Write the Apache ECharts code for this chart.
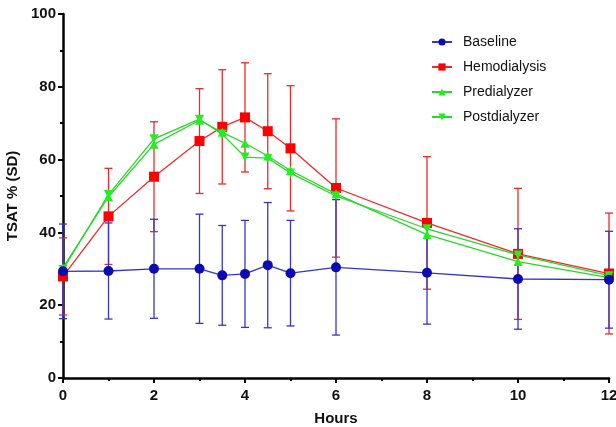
<!DOCTYPE html>
<html><head><meta charset="utf-8">
<script src="https://cdn.jsdelivr.net/npm/echarts@6/dist/echarts.min.js"></script>
<style>html,body{margin:0;padding:0;background:#fff}#c{width:616px;height:427px}</style>
</head><body><div id="c"></div>
<script>
var hours = [0, 1, 2, 3, 3.5, 4, 4.5, 5, 6, 8, 10, 12];
var baseline = [29.3, 29.4, 30.0, 30.0, 28.2, 28.6, 31.0, 28.8, 30.4, 28.9, 27.2, 27.0];
var baselineSD = [13.0, 13.2, 13.6, 15.0, 13.7, 14.7, 17.2, 14.5, 18.6, 14.1, 13.8, 13.3];
var hemodialysis = [27.9, 44.4, 55.3, 65.1, 69.0, 71.6, 67.8, 63.1, 52.2, 42.6, 34.1, 28.7];
var hemodialysisSD = [10.6, 13.2, 15.1, 14.4, 15.7, 15.0, 15.8, 17.2, 19.0, 18.2, 18.0, 16.6];
var predialyzer = [30.3, 49.8, 64.2, 70.8, 67.5, 64.5, 61.0, 57.0, 50.6, 39.4, 32.0, 27.6];
var postdialyzer = [29.8, 50.4, 65.7, 71.1, 67.0, 60.7, 60.4, 56.3, 50.0, 41.0, 33.8, 28.1];
var xTicks = [0, 2, 4, 6, 8, 10, 12];
var yTicks = [0, 20, 40, 60, 80, 100];

function pairs(ys){ return hours.map(function(h,i){ return [h, ys[i]]; }); }
function bars(ys, sd){ return hours.map(function(h,i){ return [h, ys[i]-sd[i], ys[i]+sd[i]]; }); }

function errRender(color){
  return function(params, api){
    var x = api.value(0);
    var lo = api.coord([x, api.value(1)]);
    var hi = api.coord([x, api.value(2)]);
    var w = 4;
    var st = {stroke: color, lineWidth: 1.3};
    return {type:'group', children:[
      {type:'line', shape:{x1:lo[0], y1:lo[1], x2:hi[0], y2:hi[1]}, style:st},
      {type:'line', shape:{x1:lo[0]-w, y1:lo[1], x2:lo[0]+w, y2:lo[1]}, style:st},
      {type:'line', shape:{x1:hi[0]-w, y1:hi[1], x2:hi[0]+w, y2:hi[1]}, style:st}
    ]};
  };
}

var BLUE_L = '#3535cc', BLUE_M = '#0b0bb5';
var RED_L = '#ee2a2a', RED_M = '#ff0000';
var GREEN_L = '#2ad62a', GREEN_M = '#22ee22';
var FONT = 'Liberation Sans';

var chart = echarts.init(document.getElementById('c'), null, {renderer:'canvas'});
chart.setOption({
  animation:false,
  backgroundColor:'#fff',
  textStyle:{fontFamily:FONT},
  grid:{left:63, right:7, top:14, bottom:49, containLabel:false, outerBoundsMode:'none'},
  legend:{
    orient:'vertical', left:426, top:30, itemWidth:20, itemHeight:9, itemGap:11,
    data:['Baseline','Hemodialysis','Predialyzer','Postdialyzer'],
    textStyle:{fontSize:14, color:'#111', fontFamily:FONT, padding:[0,0,0,6]}
  },
  xAxis:{
    type:'value', min:0, max:12, interval:2,
    name:'Hours', nameLocation:'middle', nameGap:33,
    nameTextStyle:{fontSize:15, fontWeight:'bold', color:'#111', fontFamily:FONT},
    axisLine:{show:true, onZero:false, lineStyle:{color:'#000', width:2.5}},
    axisTick:{show:true, length:5, lineStyle:{color:'#000', width:2}},
    minorTick:{show:true, splitNumber:2, length:3, lineStyle:{color:'#000', width:2}},
    splitLine:{show:false},
    axisLabel:{fontSize:15, fontWeight:'bold', color:'#111', margin:10, fontFamily:FONT,
      formatter:function(v){ return xTicks.indexOf(v) >= 0 ? String(v) : ''; }}
  },
  yAxis:{
    type:'value', min:0, max:100, interval:20,
    name:'TSAT % (SD)', nameLocation:'middle', nameGap:37, nameRotate:90,
    nameTextStyle:{fontSize:15, fontWeight:'bold', color:'#111', fontFamily:FONT},
    axisLine:{show:true, onZero:false, lineStyle:{color:'#000', width:2.5}},
    axisTick:{show:true, length:5, lineStyle:{color:'#000', width:2}},
    minorTick:{show:true, splitNumber:2, length:3, lineStyle:{color:'#000', width:2}},
    splitLine:{show:false},
    axisLabel:{fontSize:15, fontWeight:'bold', color:'#111', margin:7, fontFamily:FONT,
      formatter:function(v){ return yTicks.indexOf(v) >= 0 ? String(v) : ''; }}
  },
  series:[
    {type:'custom', name:'hdErr', data:bars(hemodialysis, hemodialysisSD), renderItem:errRender(RED_L), encode:{x:0, y:[1,2]}, z:2, silent:true},
    {type:'custom', name:'blErr', data:bars(baseline, baselineSD), renderItem:errRender(BLUE_L), encode:{x:0, y:[1,2]}, z:2, silent:true},
    {type:'line', name:'Hemodialysis', data:pairs(hemodialysis), symbol:'rect', symbolSize:10,
      lineStyle:{color:RED_L, width:1.3}, itemStyle:{color:RED_M}, z:3},
    {type:'line', name:'Predialyzer', data:pairs(predialyzer), symbol:'triangle', symbolSize:9,
      lineStyle:{color:GREEN_L, width:1.3}, itemStyle:{color:GREEN_M}, z:4},
    {type:'line', name:'Postdialyzer', data:pairs(postdialyzer), symbol:'triangle', symbolRotate:180, symbolSize:9,
      lineStyle:{color:GREEN_L, width:1.3}, itemStyle:{color:GREEN_M}, z:4},
    {type:'line', name:'Baseline', data:pairs(baseline), symbol:'circle', symbolSize:10,
      lineStyle:{color:BLUE_L, width:1.3}, itemStyle:{color:BLUE_M}, z:5}
  ]
});
</script></body></html>
